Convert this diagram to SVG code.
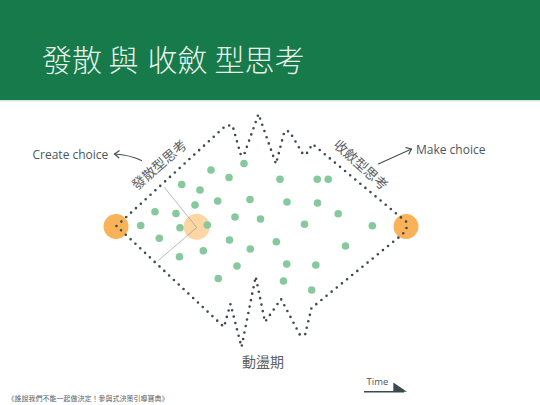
<svg xmlns="http://www.w3.org/2000/svg" width="540" height="405" viewBox="0 0 540 405">
  <defs>
    <style>
      .title { font-family: "Noto Sans CJK TC", "Noto Sans CJK SC", sans-serif; font-size: 30px; fill: #e8f1eb; font-weight: 300; }
      .en { font-family: "Open Sans", "Liberation Sans", sans-serif; fill: #4a565b; }
      .cjk { font-family: "Noto Sans CJK TC", "Noto Sans CJK SC", sans-serif; fill: #5a6064; }
      .gd { fill: #86c99d; }
      .orange { fill: #f9b257; }
      .dotline { fill: none; stroke: #3e4950; stroke-width: 2.6; stroke-linecap: round; stroke-dasharray: 0 6.6; }
      .arrow { fill: none; stroke: #465257; stroke-width: 1.2; stroke-linecap: round; }
      .thin { fill: none; stroke: #8a8f92; stroke-width: 0.6; }
    </style>
    <marker id="chev" markerWidth="10" markerHeight="10" refX="6" refY="5" orient="auto" markerUnits="userSpaceOnUse">
      <path d="M1.5,1.5 L6,5 L1.5,8.5" fill="none" stroke="#465257" stroke-width="1.2" stroke-linecap="round" stroke-linejoin="round"/>
    </marker>
  </defs>

  <rect width="540" height="405" fill="#ffffff"/>

  <g id="header">
    <rect x="0" y="0" width="540" height="100" fill="#167a4a"/>
    <line x1="0" y1="100.8" x2="540" y2="100.8" stroke="#d6e9dd" stroke-width="1.6"/>
    <text class="title" x="42" y="71">發散</text>
    <text class="title" x="108.5" y="71">與</text>
    <text class="title" x="147.5" y="71">收斂</text>
    <text class="title" x="214.5" y="71">型思考</text>
  </g>

  <g id="field">
    <circle class="gd" cx="211" cy="170" r="3.8"/>
    <circle class="gd" cx="229" cy="177.5" r="3.8"/>
    <circle class="gd" cx="244" cy="163.5" r="3.8"/>
    <circle class="gd" cx="181.7" cy="184.5" r="3.8"/>
    <circle class="gd" cx="200" cy="190" r="3.8"/>
    <circle class="gd" cx="217.7" cy="201" r="3.8"/>
    <circle class="gd" cx="250" cy="199.5" r="3.8"/>
    <circle class="gd" cx="155" cy="211.7" r="3.8"/>
    <circle class="gd" cx="176" cy="213.5" r="3.8"/>
    <circle class="gd" cx="195" cy="205" r="3.8"/>
    <circle class="gd" cx="235" cy="217" r="3.8"/>
    <circle class="gd" cx="140.7" cy="225.5" r="3.8"/>
    <circle class="gd" cx="159.3" cy="238.3" r="3.8"/>
    <circle class="gd" cx="229.5" cy="240" r="3.8"/>
    <circle class="gd" cx="250.3" cy="249" r="3.8"/>
    <circle class="gd" cx="203.3" cy="250.7" r="3.8"/>
    <circle class="gd" cx="179.5" cy="256.7" r="3.8"/>
    <circle class="gd" cx="237" cy="266" r="3.8"/>
    <circle class="gd" cx="218.3" cy="278.5" r="3.8"/>
    <circle class="gd" cx="280" cy="179.3" r="3.8"/>
    <circle class="gd" cx="317.3" cy="179.3" r="3.8"/>
    <circle class="gd" cx="328.2" cy="179.3" r="3.8"/>
    <circle class="gd" cx="287" cy="202" r="3.8"/>
    <circle class="gd" cx="317.5" cy="203" r="3.8"/>
    <circle class="gd" cx="338.2" cy="213.7" r="3.8"/>
    <circle class="gd" cx="260.5" cy="219" r="3.8"/>
    <circle class="gd" cx="304.5" cy="224.3" r="3.8"/>
    <circle class="gd" cx="276.3" cy="241.7" r="3.8"/>
    <circle class="gd" cx="345.5" cy="246" r="3.8"/>
    <circle class="gd" cx="286.7" cy="264" r="3.8"/>
    <circle class="gd" cx="315.8" cy="265" r="3.8"/>
    <circle class="gd" cx="283.5" cy="281" r="3.8"/>
    <circle class="gd" cx="311.7" cy="290" r="3.8"/>
    <circle class="gd" cx="372.3" cy="225.7" r="3.8"/>
  </g>

  <g id="node-start">
    <circle class="orange" cx="116" cy="226.5" r="12.5"/>
  </g>
  <g id="node-focus">
    <circle cx="196.7" cy="226.7" r="13" fill="#fdd6a3"/>
    <circle class="gd" cx="180" cy="227.7" r="3.8"/>
    <circle class="gd" cx="207.3" cy="225" r="3.8"/>
  </g>
  <g id="node-end">
    <circle class="orange" cx="406" cy="226.5" r="12.5"/>
  </g>

  <g id="connectors">
    <path class="dotline" d="M116.5,226 L226,125.5 L232.5,125.5 L241,155.5 L244,155 L258.5,114 L276,164 L284.5,131 L289.5,131.5 L303.5,155 L307,153 L312.5,144 L406.5,222 L406.5,230 L401,235.5 L311.5,308 L305,335 L300,335 L281,299 L265,322 L255.7,276.5 L241.5,347 L230.5,304 L224,327 Z"/>
    <polyline class="thin" points="164.3,187.3 196.7,227.5 158.3,260.5"/>
    <path class="arrow" d="M141.5,160.5 Q130,155 114.5,154" marker-end="url(#chev)"/>
    <path class="arrow" d="M378.3,164 L411.5,149" marker-end="url(#chev)"/>
    <line x1="364" y1="391.8" x2="404" y2="391.8" stroke="#3b4a4f" stroke-width="1.6"/>
    <polygon points="393.3,382.5 407,391.8 393.3,391.8" fill="#3b4a4f"/>
  </g>

  <g id="labels">
    <text class="en" x="32.5" y="158.5" font-size="12">Create choice</text>
    <text class="en" x="416" y="154" font-size="12">Make choice</text>
    <text class="cjk" font-size="13.5" text-anchor="middle" dominant-baseline="central" transform="translate(158.5,164) rotate(-41)">發散型思考</text>
    <text class="cjk" font-size="13.5" text-anchor="middle" dominant-baseline="central" transform="translate(361.5,164) rotate(42)">收斂型思考</text>
    <text class="cjk" x="263" y="366.5" font-size="14" text-anchor="middle">動盪期</text>
    <text class="en" x="366.5" y="385" font-size="9.5">Time</text>
    <text class="cjk" x="7.5" y="401" font-size="7" fill="#444">《誰說我們不能一起做決定！參與式決策引導寶典》</text>
  </g>
</svg>
